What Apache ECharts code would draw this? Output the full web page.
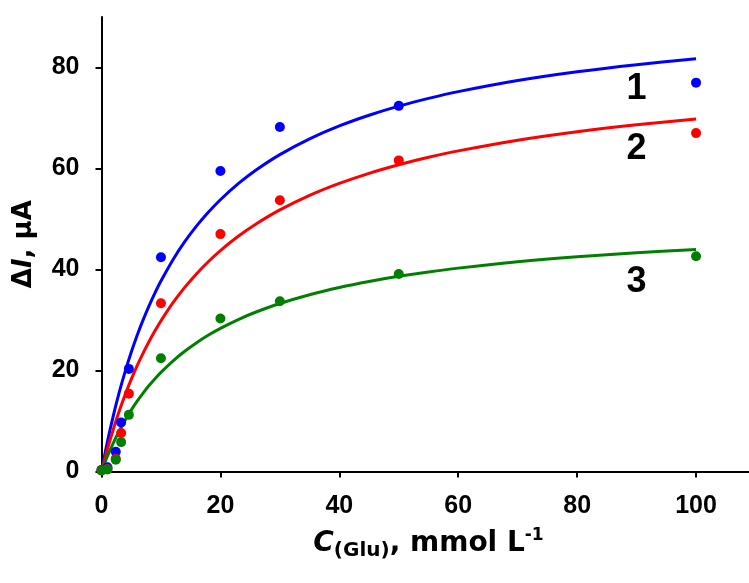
<!DOCTYPE html>
<html>
<head>
<meta charset="utf-8">
<script src="https://cdn.jsdelivr.net/npm/echarts@6/dist/echarts.min.js"></script>
<style>
  html, body { margin: 0; padding: 0; background: #fff; }
  #chart { width: 749px; height: 583px; }
</style>
</head>
<body>
<div id="chart"></div>
<script>
// Glutamate concentration, mmol/L (measured points)
var conc = [0, 1, 2.4, 3.3, 4.6, 10, 20, 30, 50, 100];
// Current response, µA, for the three electrodes
var resp1 = [0.3, 0.8, 3.9, 9.7, 20.3, 42.4, 59.5, 68.2, 72.4, 77.0];
var resp2 = [0.2, 0.5, 2.5, 7.6, 15.4, 33.3, 47.0, 53.7, 61.6, 67.0];
var resp3 = [0.2, 0.4, 2.3, 5.8, 11.2, 22.4, 30.3, 33.7, 39.1, 42.6];

// Fitted saturation curves, sampled along the concentration axis
var fitConc = [0, 1, 2, 3, 4, 5, 6, 7, 8, 9, 10, 12, 14, 16, 18, 20, 23, 26, 30, 35, 40, 45, 50, 55, 60, 70, 80, 90, 100];
var fit1 = [0, 5.91, 11.11, 15.74, 19.87, 23.59, 26.96, 30.01, 32.80, 35.36, 37.71, 41.89, 45.49, 48.62, 51.37,
            53.81, 56.98, 59.69, 62.74, 65.86, 68.42, 70.54, 72.34, 73.88, 75.22, 77.42, 79.16, 80.56, 81.72];
var fit2 = [0, 4.43, 8.41, 12.00, 15.26, 18.22, 20.94, 23.43, 25.73, 27.85, 29.82, 33.36, 36.44, 39.16, 41.58,
            43.73, 46.57, 49.01, 51.79, 54.67, 57.04, 59.04, 60.74, 62.21, 63.48, 65.60, 67.28, 68.65, 69.79];
var fit3 = [0, 3.00, 5.67, 8.05, 10.20, 12.14, 13.91, 15.52, 17.00, 18.36, 19.62, 21.86, 23.80, 25.50, 27.00,
            28.33, 30.08, 31.57, 33.26, 35.00, 36.43, 37.62, 38.64, 39.51, 40.26, 41.51, 42.50, 43.30, 43.97];

// Curve numbers placed next to the curves (data coordinates)
var curveTags = ['1', '2', '3'];
var tagConc = [90, 90, 90];
var tagResp = [75.7, 63.8, 37.5];

var colors = ['#0000ff', '#ff0000', '#008000'];

function pairs(xs, ys) {
  return xs.map(function (x, i) { return [x, ys[i]]; });
}

var FONT = '"Liberation Sans", Arial, sans-serif';
var TITLE_FONT = '"DejaVu Sans", sans-serif';

var chart = echarts.init(document.getElementById('chart'), null, { renderer: 'canvas' });

var fits = [fit1, fit2, fit3];
var resps = [resp1, resp2, resp3];
var series = [];

fits.forEach(function (f, i) {
  series.push({
    type: 'line',
    data: pairs(fitConc, f),
    smooth: 0.3,
    showSymbol: false,
    lineStyle: { color: colors[i], width: 3 },
    z: 2
  });
});

resps.forEach(function (r, i) {
  series.push({
    type: 'scatter',
    data: pairs(conc, r),
    symbol: 'circle',
    symbolSize: 10,
    itemStyle: { color: colors[i], opacity: 1 },
    z: 3
  });
});

series.push({
  type: 'scatter',
  symbolSize: 0,
  itemStyle: { opacity: 1 },
  data: curveTags.map(function (t, i) { return { name: t, value: [tagConc[i], tagResp[i]] }; }),
  label: {
    show: true,
    position: 'inside',
    formatter: '{b}',
    color: '#000',
    fontFamily: FONT,
    fontWeight: 'bold',
    fontSize: 36
  },
  silent: true,
  z: 4
});

var option = {
  animation: false,
  backgroundColor: '#ffffff',
  grid: {
    left: 101.5,
    top: 17,
    right: -6.5,
    bottom: 111.6,
    containLabel: false,
    outerBoundsMode: 'none'
  },
  xAxis: [{
    type: 'value',
    min: 0,
    max: 110,
    interval: 20,
    position: 'bottom',
    axisLine: { show: true, onZero: false, lineStyle: { color: '#000', width: 2 } },
    axisTick: { show: true, inside: false, length: 6, lineStyle: { color: '#000', width: 2 } },
    splitLine: { show: false },
    axisLabel: {
      margin: 22,
      color: '#000',
      fontFamily: FONT,
      fontWeight: 'bold',
      fontSize: 25,
      showMaxLabel: false
    },
    name: '{i|C}{sub|(Glu)}{n|, mmol L}{sup|-1}',
    nameLocation: 'middle',
    nameGap: 55,
    nameTextStyle: {
      color: '#000',
      fontFamily: TITLE_FONT,
      rich: {
        i: { fontFamily: TITLE_FONT, fontSize: 28, fontWeight: 'bold', fontStyle: 'italic', color: '#000' },
        n: { fontFamily: TITLE_FONT, fontSize: 28, fontWeight: 'bold', color: '#000' },
        sub: { fontFamily: TITLE_FONT, fontSize: 20, fontWeight: 'bold', color: '#000', padding: [14, 0, 0, 0] },
        sup: { fontFamily: TITLE_FONT, fontSize: 17, fontWeight: 'bold', color: '#000', padding: [0, 0, 16, 0] }
      }
    }
  }, {
    // top frame line
    type: 'value',
    min: 0,
    max: 110,
    position: 'top',
    axisLine: { show: true, lineStyle: { color: '#000', width: 2 } },
    axisTick: { show: false },
    axisLabel: { show: false },
    splitLine: { show: false }
  }],
  yAxis: {
    type: 'value',
    min: 0,
    max: 90,
    interval: 20,
    axisLine: { show: true, onZero: false, lineStyle: { color: '#000', width: 2 } },
    axisTick: { show: true, inside: false, length: 6, lineStyle: { color: '#000', width: 2 } },
    splitLine: { show: false },
    axisLabel: {
      margin: 22,
      color: '#000',
      fontFamily: FONT,
      fontWeight: 'bold',
      fontSize: 25,
      showMaxLabel: false
    },
    name: '{n|Δ}{i|I}{n|, μA}',
    nameLocation: 'middle',
    nameGap: 64,
    nameTextStyle: {
      color: '#000',
      fontFamily: TITLE_FONT,
      rich: {
        i: { fontFamily: TITLE_FONT, fontSize: 26, fontWeight: 'bold', fontStyle: 'italic', color: '#000' },
        n: { fontFamily: TITLE_FONT, fontSize: 26, fontWeight: 'bold', color: '#000' }
      }
    }
  },
  series: series
};

chart.setOption(option);
</script>
</body>
</html>
